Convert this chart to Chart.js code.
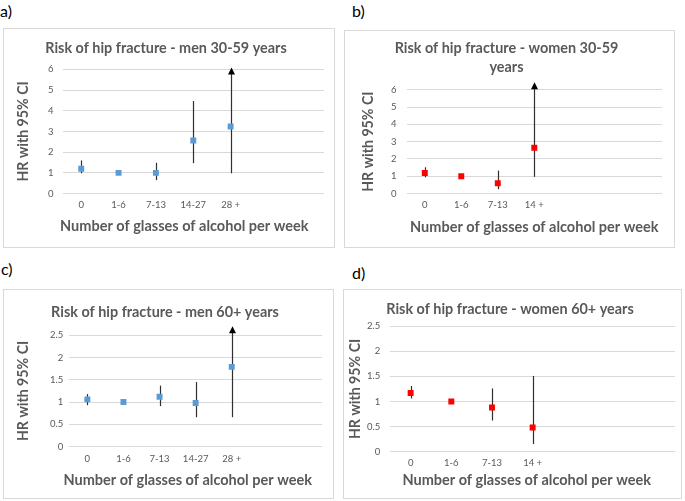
<!DOCTYPE html>
<html>
<head>
<meta charset="utf-8">
<script src="https://cdn.jsdelivr.net/npm/chart.js@4.4.0/dist/chart.umd.min.js"></script>
<style>
  body { margin: 0; background: #fff; font-family: Lato, sans-serif; }
  #wrap { position: relative; width: 685px; height: 501px; }
  .tag { position: absolute; font-size: 16px; color: #000; }
  .panel { position: absolute; border: 1px solid #d9d9d9; box-sizing: border-box; }
</style>
</head>
<body>
<div id="wrap">
  <div class="tag" style="left:0;top:1px">a)</div>
  <div class="tag" style="left:352px;top:1px">b)</div>
  <div class="tag" style="left:1px;top:259px">c)</div>
  <div class="tag" style="left:352px;top:263px">d)</div>
  <div class="panel" style="left:3px;top:28px;width:332px;height:220px"><canvas id="cA"></canvas></div>
  <div class="panel" style="left:344px;top:30px;width:331px;height:218px"><canvas id="cB"></canvas></div>
  <div class="panel" style="left:3px;top:289px;width:331px;height:210px"><canvas id="cC"></canvas></div>
  <div class="panel" style="left:343px;top:289px;width:339px;height:210px"><canvas id="cD"></canvas></div>
</div>
<script>
// --- data ---
const catsMen   = ['0', '1-6', '7-13', '14-27', '28 +', '', ''];
const catsWomen = ['0', '1-6', '7-13', '14 +', '', '', ''];

// a) men 30-59
const hrA  = [1.2, 1.0, 1.0, 2.56, 3.24];
const loA  = [0.98, null, 0.65, 1.47, 0.98];
const hiA  = [1.6, null, 1.49, 4.47, 6.08];
const arrA = [false, false, false, false, true];

// b) women 30-59
const hrB  = [1.19, 1.0, 0.6, 2.65];
const loB  = [0.94, null, 0.25, 0.97];
const hiB  = [1.52, null, 1.33, 6.43];
const arrB = [false, false, false, true];

// c) men 60+
const hrC  = [1.06, 1.0, 1.12, 0.98, 1.79];
const loC  = [0.93, null, 0.91, 0.66, 0.66];
const hiC  = [1.18, null, 1.37, 1.45, 2.7];
const arrC = [false, false, false, false, true];

// d) women 60+
const hrD  = [1.17, 1.0, 0.88, 0.48];
const loD  = [1.06, null, 0.62, 0.15];
const hiD  = [1.31, null, 1.26, 1.51];
const arrD = [false, false, false, false];

const X_TITLE = 'Number of glasses of alcohol per week';
const GREY = '#595959';
const BLUE = '#5b9bd5';
const RED  = '#ff0000';

// draws CI whiskers (and the open-ended arrow) under the markers
const errorBars = {
  id: 'errorBars',
  beforeDatasetsDraw(chart, args, opts) {
    const { ctx, scales: { x, y } } = chart;
    ctx.save();
    ctx.strokeStyle = '#303030';
    ctx.fillStyle = '#000';
    ctx.lineWidth = 1.2;
    opts.lo.forEach((lo, i) => {
      if (lo == null) return;
      const px = Math.round(x.getPixelForValue(i)) + 0.5;
      const y0 = y.getPixelForValue(lo);
      const y1 = y.getPixelForValue(opts.hi[i]);
      ctx.beginPath();
      ctx.moveTo(px, y0);
      ctx.lineTo(px, opts.arrow[i] ? y1 + 5 : y1);
      ctx.stroke();
      if (opts.arrow[i]) {
        ctx.beginPath();
        ctx.moveTo(px, y1);
        ctx.lineTo(px - 3.5, y1 + 7);
        ctx.lineTo(px + 3.5, y1 + 7);
        ctx.closePath();
        ctx.fill();
      }
    });
    ctx.restore();
  }
};

// x axis caption, Excel puts it a bit left of the plot centre
const xCaption = {
  id: 'xCaption',
  afterDraw(chart, args, opts) {
    const { ctx, chartArea: a } = chart;
    ctx.save();
    ctx.font = 'bold 14.5px Lato';
    ctx.fillStyle = GREY;
    ctx.textAlign = 'center';
    ctx.textBaseline = 'middle';
    ctx.fillText(X_TITLE, (a.left + a.right) / 2 + opts.dx, a.bottom + opts.dy);
    ctx.restore();
  }
};

function makePanel(id, cats, hr, lo, hi, arrow, color, ymax, step, title, L) {
  return new Chart(document.getElementById(id), {
    type: 'line',
    data: {
      labels: cats,
      datasets: [{
        data: hr, showLine: false,
        pointStyle: 'rect', pointRadius: 4.2, pointHoverRadius: 4.2,
        backgroundColor: color, borderColor: color, borderWidth: 0
      }]
    },
    options: {
      responsive: true, maintainAspectRatio: false, animation: false,
      layout: { padding: L.pad },
      plugins: {
        legend: { display: false },
        tooltip: { enabled: false },
        title: {
          display: true, text: title, color: GREY,
          font: { family: 'Lato', size: 14.4, weight: 'bold', lineHeight: L.titleLH || 1.2 },
          padding: L.titlePad
        },
        errorBars: { lo, hi, arrow },
        xCaption: { dx: L.capDx, dy: L.capDy }
      },
      scales: {
        x: {
          offset: true,
          grid: { display: false, drawTicks: false },
          border: { display: false },
          ticks: { color: GREY, font: { family: 'Lato', size: 9.5 }, padding: L.xTickPad, maxRotation: 0 }
        },
        y: {
          min: 0, max: ymax,
          grid: { color: '#d9d9d9', drawTicks: false },
          border: { display: false },
          ticks: { stepSize: step, color: GREY, font: { family: 'Lato', size: 9.5 },
                   padding: L.yTickPad, callback: v => String(v) },
          title: { display: true, text: 'HR with 95% CI', color: GREY,
                   font: { family: 'Lato', size: 14.2, weight: 'bold' }, padding: L.yTitlePad }
        }
      }
    },
    plugins: [errorBars, xCaption]
  });
}

makePanel('cA', catsMen, hrA, loA, hiA, arrA, BLUE, 6, 1,
  'Risk of hip fracture - men 30-59 years',
  { pad: { left: 4, right: 10, top: 7, bottom: 30 }, titlePad: { top: 4, bottom: 12 },
    xTickPad: 6, yTickPad: 9, yTitlePad: { top: 7, bottom: 7 }, capDx: -9, capDy: 33 });
makePanel('cB', catsWomen, hrB, loB, hiB, arrB, RED, 6, 1,
  ['Risk of hip fracture - women 30-59', 'years'],
  { pad: { left: 6, right: 12, top: 3, bottom: 30 }, titlePad: { top: 4, bottom: 12 }, titleLH: 1.38,
    xTickPad: 6, yTickPad: 10, yTitlePad: { top: 9, bottom: 4 }, capDx: 0, capDy: 34 });
makePanel('cC', catsMen, hrC, loC, hiC, arrC, BLUE, 2.5, 0.5,
  'Risk of hip fracture - men 60+ years',
  { pad: { left: 4, right: 11, top: 10, bottom: 26 }, titlePad: { top: 4, bottom: 14 },
    xTickPad: 7, yTickPad: 6, yTitlePad: { top: 7, bottom: 12 }, capDx: -8, capDy: 34 });
makePanel('cD', catsWomen, hrD, loD, hiD, arrD, RED, 2.5, 0.5,
  'Risk of hip fracture - women 60+ years',
  { pad: { left: 1, right: 6, top: 7, bottom: 23 }, titlePad: { top: 4, bottom: 8 },
    xTickPad: 6, yTickPad: 10, yTitlePad: { top: 2, bottom: -7 }, capDx: -6, capDy: 29 });
</script>
</body>
</html>
